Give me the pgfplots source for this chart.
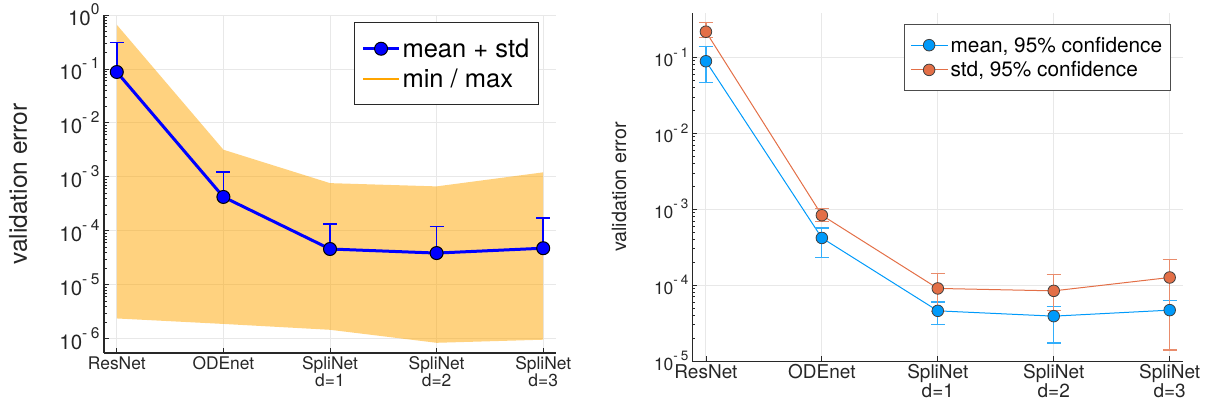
\documentclass[border=0pt]{standalone}
\usepackage{fontspec}
\setmainfont{TeX Gyre Heros}
\usepackage{pgfplots}
\pgfplotsset{compat=1.18}
\definecolor{jorange}{RGB}{255,165,0}
\definecolor{jblue}{RGB}{0,154,250}
\definecolor{jred}{RGB}{227,111,71}
\definecolor{gridc}{RGB}{232,232,232}
\definecolor{axc}{RGB}{40,40,40}
\newcommand{\supL}[1]{10\raisebox{11pt}{\fontsize{15.5}{15.5}\selectfont #1}}
\newcommand{\negL}[1]{\supL{-\hspace{3.5pt}#1}}
\newcommand{\supR}[1]{10\raisebox{9.8pt}{\fontsize{13.5}{13.5}\selectfont #1}}
\newcommand{\negR}[1]{\supR{-\hspace{3pt}#1}}
\begin{document}
\begin{tikzpicture}[x=1pt,y=1pt]
\useasboundingbox (0,0) rectangle (1212,408);
% ---------------- left panel ----------------
\begin{axis}[
  at={(104pt,55pt)}, anchor=south west,
  width=452pt, height=338pt, scale only axis,
  ymode=log, ymin=5.5e-7, ymax=1,
  xmin=-0.12, xmax=4.12,
  axis lines*=left,
  axis line style={axc, line width=1.5pt},
  tick align=inside, major tick length=5pt,
  tick style={axc, line width=1pt},
  grid=major, major grid style={gridc, line width=1pt},
  xtick={0,1,2,3,4},
  xticklabels={ResNet,ODEnet,{SpliNet\\d=1},{SpliNet\\d=2},{SpliNet\\d=3}},
  xticklabel style={align=center, font=\fontsize{17.4}{16.5}\selectfont, text=black!85},
  ytick={1e-6,1e-5,1e-4,1e-3,1e-2,1e-1,1},
  yticklabels={\negL{6},\negL{5},\negL{4},\negL{3},\negL{2},\negL{1},\supL{0}},
  minor ytick={},
  yticklabel style={font=\fontsize{20.5}{21}\selectfont, text=black!85, xshift=-1pt},
  ylabel={validation error},
  ylabel style={at={(rel axis cs:-0.190,0.5)}, anchor=center, font=\fontsize{24.5}{26}\selectfont, text=black!85},
  legend style={at={(0.553,0.979)}, anchor=north west, draw=axc, line width=1.2pt,
    font=\fontsize{25.5}{28}\selectfont, inner xsep=7pt, inner ysep=14pt, row sep=6pt},
  legend cell align=left,
  legend image code/.code={\draw[mark repeat=2,mark phase=2,#1] plot coordinates {(0pt,0pt) (18pt,0pt) (36pt,0pt)};},
]
\addplot[draw=none, fill=jorange, fill opacity=0.5, forget plot] coordinates {
 (0,0.66) (1,3.2e-3) (2,7.7e-4) (3,6.7e-4) (4,1.22e-3)
 (4,9.7e-7) (3,8.5e-7) (2,1.48e-6) (1,1.9e-6) (0,2.4e-6)} -- cycle;
\addplot[blue, line width=3pt, mark=*, mark size=6.5pt,
  mark options={fill=blue, draw=black, line width=1pt},
  error bars/.cd, y dir=plus, y explicit,
  error bar style={blue, line width=1.5pt},
  error mark options={rotate=90, mark size=7pt, blue, line width=1.5pt}]
 coordinates {
 (0,0.088) += (0,0.222)
 (1,4.27e-4) += (0,8.13e-4)
 (2,4.64e-5) += (0,8.86e-5)
 (3,3.9e-5) += (0,8.3e-5)
 (4,4.8e-5) += (0,1.26e-4)};
\addlegendentry{mean + std\hspace{6pt}}
\addlegendimage{jorange, line width=1.5pt}
\addlegendentry{min / max}
\end{axis}
% ---------------- right panel ----------------
\begin{axis}[
  at={(692pt,47pt)}, anchor=south west,
  width=491pt, height=348pt, scale only axis,
  ymode=log, ymin=1e-5, ymax=0.3846,
  xmin=-0.12, xmax=4.115,
  axis lines*=left,
  axis line style={axc, line width=1pt},
  tick align=inside, major tick length=5pt,
  tick style={axc, line width=0.8pt},
  grid=major, major grid style={gridc, line width=1pt},
  xtick={0,1,2,3,4},
  xticklabels={ResNet,ODEnet,{SpliNet\\d=1},{SpliNet\\d=2},{SpliNet\\d=3}},
  xticklabel style={align=center, font=\fontsize{19}{18.5}\selectfont, text=black!85},
  ytick={1e-5,1e-4,1e-3,1e-2,1e-1},
  yticklabels={\negR{5},\negR{4},\negR{3},\negR{2},\negR{1}},
  minor ytick={},
  yticklabel style={font=\fontsize{17.5}{18}\selectfont, text=black!85},
  ylabel={validation error},
  ylabel style={at={(rel axis cs:-0.1487,0.5)}, anchor=center, font=\fontsize{19.7}{21}\selectfont, text=black!85},
  legend style={at={(0.432,0.9675)}, anchor=north west, draw=black!70, line width=1pt,
    font=\fontsize{20.8}{22}\selectfont, inner xsep=6pt, inner ysep=10pt, row sep=4pt},
  legend cell align=left,
  legend image code/.code={\draw[mark repeat=2,mark phase=2,#1] plot coordinates {(0pt,0pt) (18pt,0pt) (37pt,0pt)};},
]
\addplot[jblue, line width=1pt, mark=*, mark size=5.8pt,
  mark options={fill=jblue, draw=black!75, line width=0.8pt},
  error bars/.cd, y dir=both, y explicit,
  error bar style={jblue!80, line width=1.2pt},
  error mark options={rotate=90, mark size=7pt, jblue!80, line width=1.2pt}]
 coordinates {
 (0,0.089) += (0,0.049) -= (0,0.042)
 (1,4.18e-4) += (0,1.48e-4) -= (0,1.89e-4)
 (2,4.58e-5) += (0,1.42e-5) -= (0,1.55e-5)
 (3,3.9e-5) += (0,1.38e-5) -= (0,2.17e-5)
 (4,4.68e-5) += (0,1.66e-5) -= (0,3.32e-5)};
\addlegendentry{mean, 95\% confidence\hspace{6pt}}
\addplot[jred, line width=1pt, mark=*, mark size=5.8pt,
  mark options={fill=jred, draw=black!75, line width=0.8pt},
  error bars/.cd, y dir=both, y explicit,
  error bar style={jred!80, line width=1.2pt},
  error mark options={rotate=90, mark size=7pt, jred!80, line width=1.2pt}]
 coordinates {
 (0,0.218) += (0,0.068) -= (0,0.034)
 (1,8.33e-4) += (0,1.97e-4) -= (0,1.38e-4)
 (2,9.04e-5) += (0,5.26e-5) -= (0,4.6e-5)
 (3,8.4e-5) += (0,5.4e-5) -= (0,3.73e-5)
 (4,1.26e-4) += (0,9.4e-5) -= (0,1.12e-4)};
\addlegendentry{std, 95\% confidence}
\end{axis}
\end{tikzpicture}
\end{document}
